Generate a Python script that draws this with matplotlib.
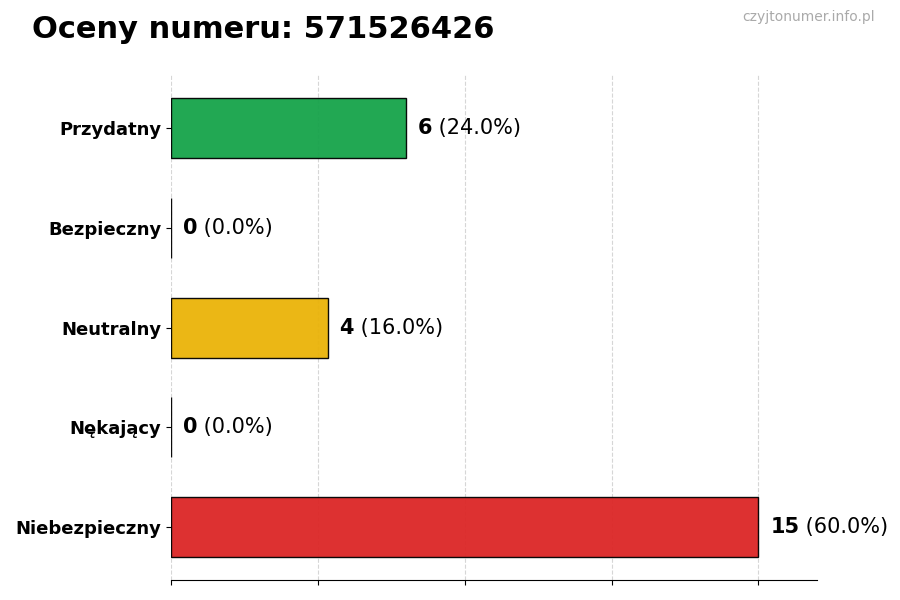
import matplotlib.pyplot as plt
import numpy as np

categories = ['Przydatny', 'Bezpieczny', 'Neutralny', 'Nękający', 'Niebezpieczny']
counts = [6, 0, 4, 0, 15]
colors = ['#16a34a', '#9ca3af', '#eab308', '#f97316', '#dc2626']
title = 'Oceny numeru: 571526426'
watermark = 'czyjtonumer.info.pl'

total = sum(counts)
max_val = max(counts)

fig = plt.figure(figsize=(9, 6), dpi=100)
ax = fig.add_axes([0.19, 0.033, 0.718, 0.842])

y = np.arange(len(categories))[::-1]
ax.barh(y, counts, height=0.6, color=colors, edgecolor='black', linewidth=1, alpha=0.95)

for yi, c in zip(y, counts):
    pct = c / total * 100
    t = ax.text(c + max_val * 0.02, yi, f'{c}', va='center', ha='left',
                fontsize=15, fontweight='bold')
    ax.annotate(f' ({pct:.1f}%)', xycoords=t, xy=(1, 0.5), va='center', ha='left',
                fontsize=15)

ax.set_yticks(y)
ax.set_yticklabels(categories, fontsize=13, fontweight='bold')
ax.set_xlim(0, max_val * 1.1)
ax.set_xticks(np.linspace(0, max_val, 5))
ax.set_xticklabels([])
ax.grid(axis='x', linestyle='--', color='#cccccc', alpha=0.8, linewidth=0.8)
ax.set_axisbelow(True)
for s in ['top', 'right', 'left']:
    ax.spines[s].set_visible(False)

fig.text(0.035, 0.95, title, fontsize=22, fontweight='bold', va='center')
fig.text(0.972, 0.972, watermark, fontsize=10, color='#aaaaaa', ha='right', va='center')

plt.savefig('out.png', dpi=100)
